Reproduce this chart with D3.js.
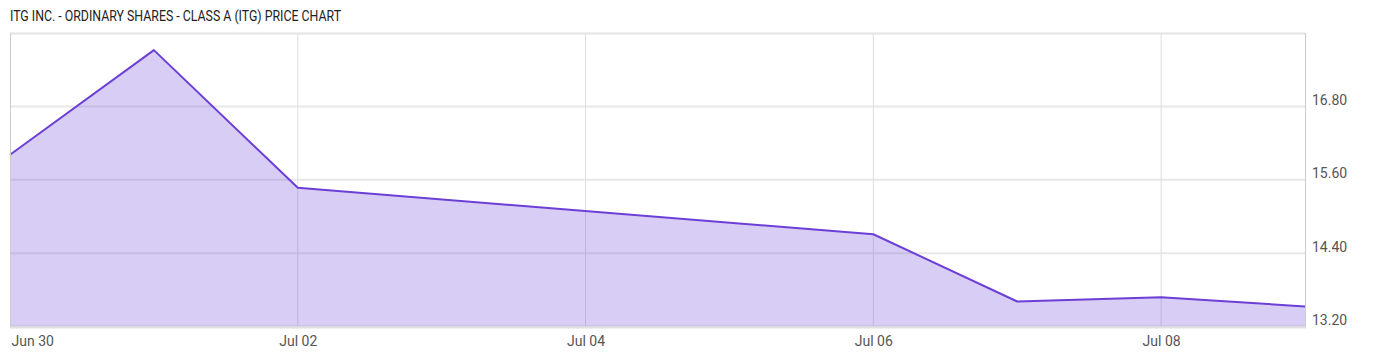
<!DOCTYPE html>
<html>
<head>
<meta charset="utf-8">
<script src="https://cdn.jsdelivr.net/npm/d3@7"></script>
<style>
  html, body { margin: 0; padding: 0; background: #fff; }
  svg { display: block; }
  text { font-family: Roboto, "Noto Sans", sans-serif; }
</style>
</head>
<body>
<svg id="chart" width="1400" height="357"></svg>
<script>
const title = "ITG INC. - ORDINARY SHARES - CLASS A (ITG) PRICE CHART";
const dates = ["2020-06-30", "2020-07-01", "2020-07-02", "2020-07-06", "2020-07-07", "2020-07-08", "2020-07-09"];
const prices = [16.01, 17.72, 15.47, 14.71, 13.61, 13.68, 13.53];
const yTicks = [13.2, 14.4, 15.6, 16.8];
const xTickDates = ["2020-06-30", "2020-07-02", "2020-07-04", "2020-07-06", "2020-07-08"];
const yDomain = [13.2, 18.0];
const xDomain = ["2020-06-30", "2020-07-09"];

(function () {
const parse = d3.utcParse("%Y-%m-%d");
const data = dates.map((d, i) => ({ date: parse(d), value: prices[i] }));

const svg = d3.select("#chart");
const pL = 10, pR = 1305, pT = 33, pB = 326.6;

const x = d3.scaleUtc().domain(xDomain.map(parse)).range([pL, pR]);
const y = d3.scaleLinear().domain(yDomain).range([pB, pT]);

svg.append("text")
  .attr("x", 10).attr("y", 21)
  .attr("font-size", 14).attr("fill", "#222")
  .attr("textLength", 331).attr("lengthAdjust", "spacingAndGlyphs")
  .text(title);

// horizontal gridlines
svg.append("g").selectAll("line").data(yTicks).join("line")
  .attr("x1", pL).attr("x2", pR)
  .attr("y1", d => y(d)).attr("y2", d => y(d))
  .attr("stroke", "#e8e8e8").attr("stroke-width", 2);

// vertical gridlines
svg.append("g").selectAll("line").data(xTickDates.slice(1).map(parse)).join("line")
  .attr("x1", d => x(d)).attr("x2", d => x(d))
  .attr("y1", pT).attr("y2", pB)
  .attr("stroke", "#dedede").attr("stroke-width", 1);

// area
const area = d3.area().x(d => x(d.date)).y0(pB).y1(d => y(d.value));
svg.append("path").datum(data)
  .attr("d", area)
  .attr("fill", "#6a3fd4").attr("fill-opacity", 0.26);

// line
const line = d3.line().x(d => x(d.date)).y(d => y(d.value));
svg.append("path").datum(data)
  .attr("d", line)
  .attr("fill", "none").attr("stroke", "#6c3fd6").attr("stroke-width", 2)
  .attr("stroke-linejoin", "round");

// borders
svg.append("line").attr("x1", pL).attr("x2", pR + 0.5).attr("y1", pT + 0.5).attr("y2", pT + 0.5)
  .attr("stroke", "#e4e4e4").attr("stroke-width", 2);
svg.append("line").attr("x1", pL + 0.5).attr("x2", pL + 0.5).attr("y1", pT).attr("y2", pB + 1)
  .attr("stroke", "#cccccc").attr("stroke-width", 1);
svg.append("line").attr("x1", pR + 0.5).attr("x2", pR + 0.5).attr("y1", pT).attr("y2", pB + 1)
  .attr("stroke", "#cccccc").attr("stroke-width", 1);
svg.append("line").attr("x1", pL).attr("x2", pR + 1).attr("y1", pB + 1).attr("y2", pB + 1)
  .attr("stroke", "#e0e0e0").attr("stroke-width", 2);

// y axis labels
const yAxis = d3.axisRight(y).tickValues(yTicks).tickFormat(d3.format(".2f")).tickSize(0).tickPadding(0);
const gy = svg.append("g").attr("transform", `translate(${pR + 7},0)`).call(yAxis);
gy.select(".domain").remove();
gy.selectAll("text")
  .attr("font-size", 14).attr("font-family", "Roboto, sans-serif").attr("fill", "#555")
  .attr("dy", "-2").attr("x", 0);

// x axis labels
const fmt = d3.utcFormat("%b %d");
const xAxis = d3.axisBottom(x).tickValues(xTickDates.map(parse)).tickFormat(fmt).tickSize(0).tickPadding(0);
const gx = svg.append("g").attr("transform", `translate(0,${pB})`).call(xAxis);
gx.select(".domain").remove();
gx.selectAll("text")
  .attr("font-size", 14).attr("font-family", "Roboto, sans-serif").attr("fill", "#555")
  .attr("y", 19).attr("dy", 0)
  .attr("text-anchor", (d, i) => i === 0 ? "start" : "middle")
  .attr("dx", (d, i) => i === 0 ? 1 : 0);
})();
</script>
</body>
</html>
